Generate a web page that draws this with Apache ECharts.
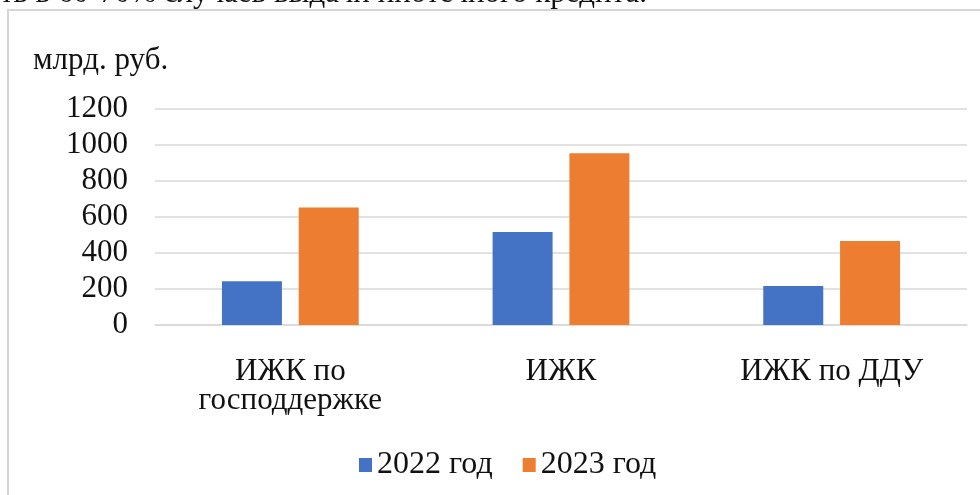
<!DOCTYPE html>
<html>
<head>
<meta charset="utf-8">
<script src="https://cdn.jsdelivr.net/npm/echarts@6/dist/echarts.min.js"></script>
<style>html,body{margin:0;padding:0;background:#fff;}#c{width:980px;height:495px;}</style>
</head>
<body>
<div id="c"></div>
<script>
const categories = ['ИЖК по\nгосподдержке', 'ИЖК', 'ИЖК по ДДУ'];
const seriesNames = ['2022 год', '2023 год'];
const values2022 = [243, 516, 216];
const values2023 = [653, 954, 466];
const yTicks = { min: 0, max: 1200, interval: 200 };
const unitLabel = 'млрд. руб.';
const cutText = 'ть в 60-70% случаев выдачи ипотечного кредита.';

const FONT = '"Liberation Serif", "Times New Roman", serif';
const chart = echarts.init(document.getElementById('c'));
chart.setOption({
  animation: false,
  backgroundColor: '#fff',
  title: {
    text: unitLabel, left: 28, top: 40,
    textStyle: { fontFamily: FONT, fontSize: 31, fontWeight: 'normal', color: '#111' }
  },
  graphic: [
    { type: 'rect', shape: { x: 8, y: 10, width: 1100, height: 600 }, style: { fill: 'none', stroke: '#d6d6d6', lineWidth: 2 }, silent: true, z: 0 },
    { type: 'text', x: 0, y: -6, style: { text: cutText, font: '31px ' + FONT, fill: '#111', verticalAlign: 'middle' }, silent: true }
  ],
  legend: {
    data: seriesNames, left: 354, top: 444, itemWidth: 13, itemHeight: 14, itemGap: 30, icon: 'rect',
    textStyle: { fontFamily: FONT, fontSize: 32, color: '#111' }
  },
  grid: { left: 155, right: 13, top: 109, height: 216, containLabel: false },
  xAxis: {
    type: 'category', data: categories,
    axisTick: { show: false },
    axisLine: { lineStyle: { color: '#d9d9d9', width: 1.5 } },
    axisLabel: { fontFamily: FONT, fontSize: 31, color: '#111', margin: 32, lineHeight: 29, interval: 0 }
  },
  yAxis: {
    type: 'value', min: yTicks.min, max: yTicks.max, interval: yTicks.interval,
    axisLine: { show: false }, axisTick: { show: false },
    splitLine: { lineStyle: { color: '#d9d9d9', width: 1.5 } },
    axisLabel: { fontFamily: FONT, fontSize: 31, color: '#111', margin: 27, formatter: function (v) { return String(v); } }
  },
  series: [
    { name: seriesNames[0], type: 'bar', data: values2022, barWidth: 60, barGap: '28%', itemStyle: { color: '#4472C4' } },
    { name: seriesNames[1], type: 'bar', data: values2023, barWidth: 60, barGap: '28%', itemStyle: { color: '#ED7D31' } }
  ]
});
</script>
</body>
</html>
